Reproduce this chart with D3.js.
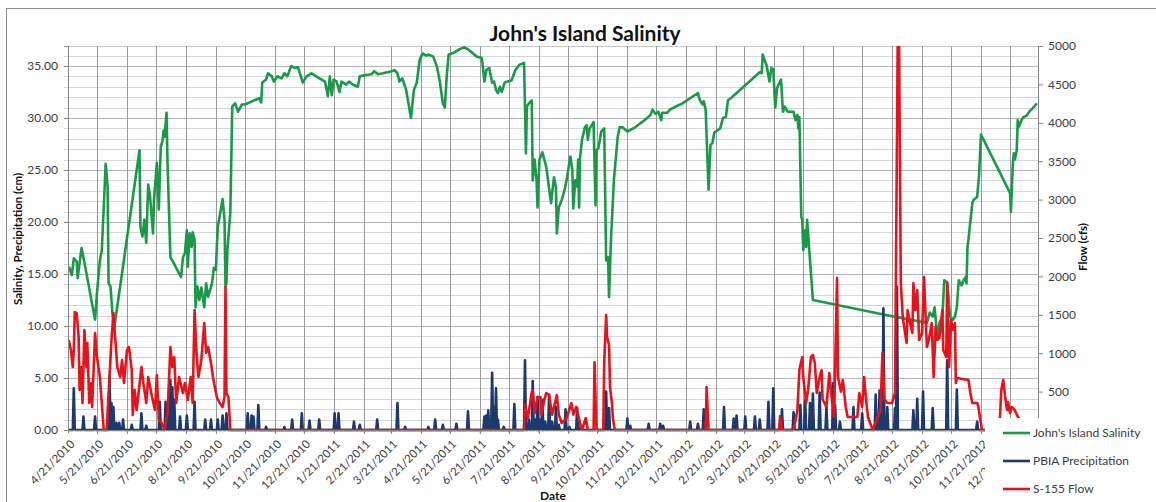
<!DOCTYPE html>
<html>
<head>
<meta charset="utf-8">
<script src="https://cdn.jsdelivr.net/npm/d3@7"></script>
<style>
  body { margin: 0; background: #fff; }
  text { font-family: Lato, 'Open Sans', sans-serif; }
</style>
</head>
<body>
<div class="container"></div>
<script>
// tick labels
const dateTicks = ['4/21/2010','5/21/2010','6/21/2010','7/21/2010','8/21/2010','9/21/2010','10/21/2010','11/21/2010','12/21/2010','1/21/2011','2/21/2011','3/21/2011','4/21/2011','5/21/2011','6/21/2011','7/21/2011','8/21/2011','9/21/2011','10/21/2011','11/21/2011','12/21/2011','1/21/2012','2/21/2012','3/21/2012','4/21/2012','5/21/2012','6/21/2012','7/21/2012','8/21/2012','9/21/2012','10/21/2012','11/21/2012','12/21/2012'];
const leftTicks = [0, 5, 10, 15, 20, 25, 30, 35];
const rightTicks = [500, 1000, 1500, 2000, 2500, 3000, 3500, 4000, 4500, 5000];

// John's Island salinity (left axis)
const salinity = [
['2010-04-22',15.7],['2010-04-25',14.9],['2010-04-27',16.5],['2010-04-30',16.2],['2010-05-01',14.6],['2010-05-05',17.5],['2010-05-08',16.1],['2010-05-19',10.6],['2010-05-21',13.2],['2010-05-24',16.3],['2010-05-26',17.3],['2010-05-30',25.6],['2010-06-01',23.4],['2010-06-02',14.1],['2010-06-04',13.8],['2010-06-06',11.2],['2010-06-08',9.9],
['2010-07-04',26.9],['2010-07-05',19.5],['2010-07-07',18.6],['2010-07-09',20.2],['2010-07-11',18.0],['2010-07-13',23.6],['2010-07-15',22.4],['2010-07-18',18.9],['2010-07-19',22.1],['2010-07-22',25.7],['2010-07-24',21.2],['2010-07-26',27.2],['2010-07-28',27.9],['2010-07-29',28.8],['2010-07-30',28.2],['2010-08-01',30.5],['2010-08-02',25.7],['2010-08-05',16.6],['2010-08-07',16.3],['2010-08-16',14.7],['2010-08-18',16.6],['2010-08-20',17.0],['2010-08-22',19.2],['2010-08-23',15.7],['2010-08-25',18.9],['2010-08-27',17.6],['2010-08-28',19.0],['2010-08-30',18.3],['2010-08-31',11.8],
['2010-09-02',13.8],['2010-09-04',12.5],['2010-09-06',13.7],['2010-09-09',11.8],['2010-09-11',14.1],['2010-09-13',12.8],['2010-09-17',14.1],['2010-09-19',15.6],['2010-09-21',15.4],['2010-09-23',19.5],['2010-09-28',22.2],['2010-09-30',20.2],['2010-10-01',13.8],['2010-10-02',14.1],['2010-10-03',17.3],['2010-10-06',20.9],['2010-10-08',31.1],['2010-10-11',31.4],['2010-10-14',30.6],['2010-10-18',31.3],['2010-10-21',31.3],
['2010-11-05',31.9],['2010-11-07',31.5],['2010-11-08',33.4],['2010-11-12',33.7],['2010-11-14',34.3],['2010-11-18',34.0],['2010-11-20',33.5],['2010-11-24',34.0],['2010-11-28',33.8],['2010-12-01',34.3],['2010-12-04',34.0],['2010-12-08',35.0],['2010-12-12',34.8],['2010-12-15',34.9],['2010-12-18',34.0],['2010-12-20',33.4],['2010-12-24',34.0],['2010-12-29',34.3],
['2011-01-03',34.0],['2011-01-12',33.5],['2011-01-15',32.1],['2011-01-17',34.0],['2011-01-19',32.2],['2011-01-21',33.7],['2011-01-24',33.5],['2011-01-27',32.5],['2011-01-29',33.5],['2011-02-03',33.2],['2011-02-06',33.5],['2011-02-10',33.2],['2011-02-15',33.0],['2011-02-17',34.0],['2011-02-22',34.1],['2011-03-01',34.2],['2011-03-04',34.5],['2011-03-08',34.2],['2011-03-13',34.3],['2011-03-22',34.5],['2011-03-25',34.6],['2011-03-28',34.3],['2011-03-30',33.5],
['2011-04-02',33.8],['2011-04-06',32.7],['2011-04-11',30.0],['2011-04-14',32.7],['2011-04-17',33.4],['2011-04-20',35.6],['2011-04-23',36.2],['2011-04-27',36.0],['2011-04-29',36.1],['2011-05-04',35.9],['2011-05-08',34.9],['2011-05-11',33.4],['2011-05-14',31.4],['2011-05-16',31.0],['2011-05-18',34.0],['2011-05-20',36.1],['2011-05-26',36.3],['2011-05-31',36.6],['2011-06-05',36.8],['2011-06-09',36.6],['2011-06-13',36.3],['2011-06-18',35.9],['2011-06-23',35.8],['2011-06-24',35.3],['2011-06-26',33.5],['2011-06-28',34.6],
['2011-07-01',34.8],['2011-07-04',33.4],['2011-07-06',33.5],['2011-07-08',32.7],['2011-07-10',32.4],['2011-07-12',33.0],['2011-07-14',32.5],['2011-07-17',33.4],['2011-07-20',33.5],['2011-07-24',33.6],['2011-07-28',34.6],['2011-08-01',35.1],['2011-08-06',35.3],['2011-08-07',31.1],['2011-08-08',26.6],['2011-08-09',31.1],['2011-08-11',31.4],['2011-08-14',31.7],['2011-08-15',24.0],['2011-08-17',26.0],['2011-08-19',24.0],['2011-08-20',21.4],['2011-08-22',26.0],['2011-08-25',26.7],['2011-08-27',26.0],['2011-08-29',25.3],
['2011-09-03',21.8],['2011-09-06',24.3],['2011-09-08',23.4],['2011-09-09',18.9],['2011-09-11',21.4],['2011-09-14',22.1],['2011-09-17',23.1],['2011-09-19',24.0],['2011-09-23',26.3],['2011-09-25',25.0],['2011-09-26',21.3],['2011-09-28',24.0],['2011-09-30',23.4],['2011-10-01',26.0],['2011-10-02',21.4],['2011-10-03',26.2],['2011-10-05',27.9],['2011-10-08',29.1],['2011-10-10',29.3],['2011-10-11',27.9],['2011-10-13',29.0],['2011-10-17',29.6],['2011-10-19',21.6],['2011-10-20',26.9],['2011-10-22',27.1],['2011-10-25',28.7],['2011-10-28',29.0],['2011-10-30',16.3],
['2011-11-01',16.6],['2011-11-02',12.8],['2011-11-04',18.3],['2011-11-07',24.0],['2011-11-11',28.2],['2011-11-13',29.1],['2011-11-16',29.1],['2011-11-21',28.7],['2011-11-29',29.1],['2011-12-09',29.8],['2011-12-15',30.3],['2011-12-17',30.8],['2011-12-20',30.4],['2011-12-23',30.6],['2011-12-26',29.8],['2011-12-27',30.5],
['2012-01-01',30.5],['2012-01-04',30.8],['2012-01-10',31.1],['2012-01-17',31.4],['2012-02-02',32.4],['2012-02-04',31.7],['2012-02-07',31.3],['2012-02-08',31.6],['2012-02-10',30.8],['2012-02-13',23.1],['2012-02-15',27.4],['2012-02-17',27.6],['2012-02-19',28.6],['2012-02-22',28.8],['2012-02-25',29.0],['2012-02-28',30.0],['2012-03-02',30.1],['2012-03-04',31.7],['2012-03-07',31.9],
['2012-04-06',34.4],['2012-04-08',34.3],['2012-04-09',36.1],['2012-04-12',35.3],['2012-04-13',35.1],['2012-04-16',33.5],['2012-04-18',34.8],['2012-04-20',34.7],['2012-04-22',31.0],['2012-04-24',32.9],['2012-04-28',33.7],['2012-04-30',30.6],['2012-05-02',31.1],['2012-05-05',30.6],['2012-05-11',30.6],['2012-05-13',29.8],['2012-05-15',30.3],['2012-05-16',29.0],['2012-05-17',30.1],['2012-05-19',20.5],['2012-05-20',20.2],['2012-05-21',17.3],['2012-05-23',19.2],['2012-05-24',17.6],['2012-05-25',20.2],['2012-05-27',17.6],['2012-05-31',12.5],
['2012-08-12',11.1],['2012-09-26',10.3],['2012-09-29',11.3],['2012-10-02',10.9],['2012-10-04',11.8],['2012-10-07',8.7],['2012-10-09',10.3],['2012-10-12',10.9],['2012-10-14',14.4],['2012-10-17',14.2],['2012-10-18',13.2],['2012-10-20',10.9],['2012-10-23',10.6],['2012-10-25',10.9],['2012-10-27',11.8],['2012-10-29',14.4],['2012-11-01',13.9],['2012-11-03',14.4],['2012-11-05',14.7],['2012-11-06',14.1],['2012-11-07',17.6],['2012-11-08',18.3],['2012-11-12',21.8],['2012-11-13',22.1],['2012-11-17',22.4],['2012-11-19',24.5],['2012-11-21',28.4],
['2012-12-21',22.8],['2012-12-22',21.0],['2012-12-24',25.7],['2012-12-25',26.6],['2012-12-26',26.0],['2012-12-28',26.9],['2012-12-29',29.8],['2012-12-30',29.1],['2013-01-02',29.8],['2013-01-04',30.1],['2013-01-07',30.2],['2013-01-10',30.6],['2013-01-15',31.1],['2013-01-18',31.4]
];

// PBIA precipitation, rain days only (left axis)
const precipitation = [
['2010-04-27',4.0],['2010-05-07',1.3],['2010-05-19',1.3],['2010-06-03',5.2],['2010-06-05',2.6],['2010-06-07',2.2],['2010-06-10',0.7],['2010-06-13',0.7],['2010-06-17',1.0],['2010-06-26',0.5],['2010-07-06',1.6],['2010-07-11',0.4],['2010-07-25',2.7],['2010-07-31',2.7],['2010-08-02',2.0],['2010-08-05',4.8],['2010-08-07',4.1],['2010-08-09',2.9],['2010-08-15',1.3],['2010-08-22',1.4],['2010-08-30',2.7],['2010-09-10',1.0],['2010-09-16',1.0],['2010-09-23',1.0],['2010-09-28',1.4],['2010-10-02',1.6],['2010-10-24',1.6],['2010-10-28',1.4],['2010-10-30',1.3],['2010-11-04',2.4],['2010-11-12',0.3],['2010-12-01',0.3],['2010-12-09',1.0],['2010-12-19',1.6],['2010-12-27',0.9],
['2011-01-06',1.0],['2011-01-22',1.6],['2011-01-26',1.6],['2011-02-11',0.8],['2011-02-17',0.5],['2011-03-07',1.0],['2011-03-28',2.6],['2011-04-05',0.3],['2011-04-29',0.3],['2011-05-06',1.0],['2011-05-14',0.5],['2011-05-28',0.6],['2011-06-09',1.8],['2011-06-26',1.3],['2011-06-28',1.4],['2011-06-30',1.9],['2011-07-04',5.5],['2011-07-06',2.2],['2011-07-08',4.0],['2011-07-10',1.0],['2011-07-16',0.3],['2011-07-27',2.5],['2011-08-07',6.7],['2011-08-11',1.0],['2011-08-15',4.7],['2011-08-18',1.0],['2011-08-20',3.2],['2011-08-23',1.0],['2011-08-25',2.9],['2011-08-28',0.8],['2011-09-01',3.4],['2011-09-04',0.8],['2011-09-08',2.2],['2011-09-11',0.5],['2011-09-18',2.0],['2011-09-22',0.3],['2011-09-30',2.1],['2011-10-04',0.4],['2011-10-30',3.7],['2011-11-02',2.1],['2011-11-21',1.1],['2011-11-24',0.4],['2011-12-13',0.6],['2011-12-25',0.6],['2011-12-28',0.4],
['2012-01-25',0.8],['2012-02-02',0.6],['2012-02-08',2.0],['2012-02-29',2.2],['2012-03-10',1.1],['2012-03-13',1.4],['2012-03-22',1.3],['2012-04-01',1.3],['2012-04-06',1.0],['2012-04-15',2.7],['2012-04-20',4.0],['2012-04-29',2.0],['2012-05-11',1.7],['2012-05-18',2.4],['2012-05-23',2.9],['2012-05-28',2.6],['2012-05-31',3.5],['2012-06-07',3.6],['2012-06-14',2.2],['2012-06-21',4.5],['2012-06-23',2.4],['2012-06-28',0.8],['2012-07-12',2.2],['2012-07-21',1.6],['2012-08-04',3.4],['2012-08-08',3.8],['2012-08-12',11.7],['2012-08-16',2.2],['2012-08-24',2.1],['2012-08-26',13.8],['2012-09-12',1.9],['2012-09-16',3.0],['2012-09-22',3.7],['2012-10-02',2.1],['2012-10-17',6.7],['2012-10-27',3.9],['2012-11-17',0.8]
];

// S-155 flow (right axis, cfs)
const flow = [
['2010-04-21',1100],['2010-04-22',1159],['2010-04-24',1042],['2010-04-26',820],['2010-04-27',1042],['2010-04-28',1536],['2010-04-30',1523],['2010-05-02',1211],['2010-05-03',521],['2010-05-05',820],['2010-05-06',352],['2010-05-08',1302],['2010-05-10',820],['2010-05-11',1133],['2010-05-13',352],['2010-05-15',612],['2010-05-16',300],['2010-05-19',1263],['2010-05-21',950],['2010-05-24',690],['2010-05-28',0],['2010-05-31',0],
['2010-06-05',1172],['2010-06-07',1523],['2010-06-09',1172],['2010-06-11',820],['2010-06-14',690],['2010-06-16',911],['2010-06-18',612],['2010-06-21',1042],['2010-06-23',1081],['2010-06-26',781],['2010-06-27',195],['2010-06-29',521],['2010-07-01',260],['2010-07-03',482],['2010-07-06',820],['2010-07-08',612],['2010-07-11',352],['2010-07-13',690],['2010-07-17',430],['2010-07-20',260],['2010-07-22',716],['2010-07-24',130],['2010-07-27',91],['2010-07-30',0],
['2010-08-02',221],['2010-08-05',1081],['2010-08-07',820],['2010-08-09',950],['2010-08-11',352],['2010-08-14',690],['2010-08-18',482],['2010-08-20',612],['2010-08-23',391],['2010-08-26',690],['2010-08-28',352],['2010-08-30',1562],['2010-09-01',1003],['2010-09-03',690],['2010-09-06',911],['2010-09-09',1393],['2010-09-11',1003],['2010-09-13',1081],['2010-09-16',872],['2010-09-18',690],['2010-09-22',430],['2010-09-25',352],['2010-09-28',300],['2010-09-30',430],['2010-10-01',1862],['2010-10-02',482],['2010-10-04',430],['2010-10-06',0],
['2011-08-06',0],['2011-08-07',325],['2011-08-10',150],['2011-08-14',495],['2011-08-15',521],['2011-08-17',221],['2011-08-19',365],['2011-08-20',417],['2011-08-23',430],['2011-08-24',200],['2011-08-27',391],['2011-08-29',482],['2011-09-01',456],['2011-09-04',200],['2011-09-06',300],['2011-09-08',400],['2011-09-09',456],['2011-09-11',200],['2011-09-14',91],['2011-09-19',150],['2011-09-24',352],['2011-09-26',200],['2011-09-29',300],['2011-10-03',91],['2011-10-05',0],['2011-10-09',156],['2011-10-11',0],['2011-10-17',0],['2011-10-18',880],['2011-10-20',0],['2011-10-27',0],['2011-10-28',872],['2011-10-30',1497],['2011-10-31',1211],['2011-11-02',1107],['2011-11-03',560],['2011-11-05',352],['2011-11-06',156],['2011-11-08',0],
['2012-02-10',0],['2012-02-11',560],['2012-02-13',0],['2012-04-26',0],['2012-04-27',180],['2012-04-29',0],['2012-05-11',0],['2012-05-15',260],['2012-05-17',781],['2012-05-20',950],['2012-05-21',690],['2012-05-24',352],['2012-05-26',521],['2012-05-29',950],['2012-05-31',977],['2012-06-02',872],['2012-06-04',482],['2012-06-07',690],['2012-06-09',781],['2012-06-10',400],['2012-06-14',300],['2012-06-17',742],['2012-06-20',350],['2012-06-22',170],['2012-06-25',1979],['2012-06-26',690],['2012-06-29',500],['2012-07-01',651],['2012-07-04',300],['2012-07-06',170],['2012-07-16',170],['2012-07-18',482],['2012-07-21',300],['2012-07-23',690],['2012-07-25',400],['2012-07-27',170],
['2012-08-01',0],['2012-08-05',130],['2012-08-09',250],['2012-08-11',1003],['2012-08-13',400],['2012-08-16',352],['2012-08-21',352],['2012-08-24',482],['2012-08-27',5400],['2012-08-28',5400],['2012-08-30',1914],['2012-09-01',1471],['2012-09-05',1133],['2012-09-06',1562],['2012-09-08',1432],['2012-09-11',1263],['2012-09-12',1914],['2012-09-14',1562],['2012-09-16',1823],['2012-09-18',1172],['2012-09-21',1263],['2012-09-23',1992],['2012-09-26',1081],['2012-09-28',1172],
['2012-10-01',1393],['2012-10-03',690],['2012-10-05',1341],['2012-10-07',1172],['2012-10-09',1200],['2012-10-12',1562],['2012-10-13',1042],['2012-10-16',950],['2012-10-17',1914],['2012-10-19',820],['2012-10-21',1432],['2012-10-23',1302],['2012-10-25',1393],['2012-10-26',612],['2012-10-27',677],['2012-11-08',651],['2012-11-10',482],['2012-11-12',352],['2012-11-17',352],['2012-11-18',320],['2012-11-22',0],
['2012-12-10',0],['2012-12-12',521],['2012-12-14',651],['2012-12-16',430],['2012-12-18',260],['2012-12-19',365],['2012-12-21',221],['2012-12-23',300],['2012-12-26',260],['2012-12-28',200],['2012-12-30',156],['2012-12-31',0]
];

const seriesNames = ["John's Island Salinity", 'PBIA Precipitation', 'S-155 Flow'];
const seriesColors = ['#1a9a48', '#1c3a6e', '#e5131b'];

let parseDay = d3.timeParse('%Y-%m-%d');
let parseTick = d3.timeParse('%m/%d/%Y');
let fmtDay = d3.timeFormat('%Y-%m-%d');

let margin = { top: 46, right: 118, bottom: 72, left: 68 };
let W = 1156, H = 502;

let svg = d3
  .select('.container')
  .append('svg')
  .attr('width', W)
  .attr('height', H);

// outer chart border
svg.append('rect')
  .attr('x', 6.5).attr('y', 8.5)
  .attr('width', W + 20).attr('height', H + 20)
  .attr('fill', '#fff')
  .attr('stroke', '#8c8c8c');

let x = d3.scaleTime()
  .domain([parseDay('2010-04-21'), parseDay('2013-01-19')])
  .range([margin.left, W - margin.right]);

let yLeft = d3.scaleLinear().domain([0, 36.92]).range([H - margin.bottom, margin.top]);
let yRight = d3.scaleLinear().domain([0, 5000]).range([H - margin.bottom, margin.top]);

let x0 = margin.left, x1 = W - margin.right, yTop = margin.top, yBot = H - margin.bottom;
let tickDates = dateTicks.map(parseTick);

// grid
let grid = svg.append('g');
grid.selectAll('.hminor')
  .data(d3.range(1, 37))
  .enter()
  .append('line')
  .attr('x1', x0 - 4).attr('x2', x1)
  .attr('y1', (d) => Math.round(yLeft(d)) + 0.5)
  .attr('y2', (d) => Math.round(yLeft(d)) + 0.5)
  .attr('stroke', (d) => (d % 5 === 0 ? '#b4b4b4' : '#d6d6d6'))
  .attr('stroke-width', 1);

grid.append('line')
  .attr('x1', x0).attr('x2', x1)
  .attr('y1', yTop + 0.5).attr('y2', yTop + 0.5)
  .attr('stroke', '#c8c8c8');

grid.selectAll('.vgrid')
  .data(tickDates.slice(1))
  .enter()
  .append('line')
  .attr('x1', (d) => Math.round(x(d)) + 0.5)
  .attr('x2', (d) => Math.round(x(d)) + 0.5)
  .attr('y1', yTop).attr('y2', yBot + 4)
  .attr('stroke', '#999')
  .attr('stroke-width', 1);

// lines
svg.append('clipPath').attr('id', 'plotclip')
  .append('rect')
  .attr('x', x0).attr('y', yTop)
  .attr('width', x1 - x0).attr('height', yBot - yTop + 3);

let plot = svg.append('g').attr('clip-path', 'url(#plotclip)');

let salinityData = salinity.map(([d, v]) => ({ date: parseDay(d), value: v }));

let rainByDay = new Map(precipitation);
let precipData = d3.timeDay
  .range(parseDay('2010-04-21'), parseDay('2013-01-01'))
  .map((d) => ({ date: d, value: rainByDay.get(fmtDay(d)) || 0 }));

let flowData = flow.map(([d, v]) => ({ date: parseDay(d), value: v }));

let lineLeft = d3.line().x((d) => x(d.date)).y((d) => yLeft(d.value));
let lineRight = d3.line().x((d) => x(d.date)).y((d) => yRight(d.value));

plot.append('path')
  .datum(salinityData)
  .attr('d', lineLeft)
  .attr('fill', 'none')
  .attr('stroke', seriesColors[0])
  .attr('stroke-width', 2.6)
  .attr('stroke-linejoin', 'round');

plot.append('path')
  .datum(precipData)
  .attr('d', lineLeft)
  .attr('fill', 'none')
  .attr('stroke', seriesColors[1])
  .attr('stroke-width', 2.6)
  .attr('stroke-linejoin', 'round');

plot.append('path')
  .datum(flowData)
  .attr('d', lineRight)
  .attr('fill', 'none')
  .attr('stroke', seriesColors[2])
  .attr('stroke-width', 2.6)
  .attr('stroke-linejoin', 'round');

// axes
let leftAxis = svg.append('g')
  .attr('transform', 'translate(' + x0 + ',0)')
  .call(d3.axisLeft(yLeft).tickValues(leftTicks).tickFormat(d3.format('.2f')).tickSize(4).tickPadding(6));

let rightAxis = svg.append('g')
  .attr('transform', 'translate(' + x1 + ',0)')
  .call(d3.axisRight(yRight).tickValues(rightTicks).tickFormat(d3.format('d')).tickSize(5).tickPadding(5));

let bottomAxis = svg.append('g')
  .attr('transform', 'translate(0,' + yBot + ')')
  .call(d3.axisBottom(x).tickValues(tickDates).tickFormat(d3.timeFormat('%-m/%-d/%Y')).tickSize(3).tickSizeOuter(0));

[leftAxis, rightAxis, bottomAxis].forEach((g) => {
  g.selectAll('path.domain').attr('stroke', '#868686');
  g.selectAll('.tick line').attr('stroke', '#868686');
  g.selectAll('text')
    .style('font-size', '12px')
    .attr('fill', '#404040')
    .style('font-family', 'Lato, sans-serif');
});
bottomAxis.select('path.domain').attr('d', 'M' + x0 + ',0.5H' + x1);

bottomAxis.selectAll('text')
  .attr('text-anchor', 'end')
  .attr('x', 0).attr('y', 0)
  .attr('dy', '0.35em')
  .attr('transform', 'translate(4,12) rotate(-45)')
  .style('font-size', '11.5px');

// legend
let legend = svg.append('g');
legend.append('rect')
  .attr('x', 985).attr('y', 418)
  .attr('width', 180).attr('height', 90)
  .attr('fill', '#fff');

let rows = legend.selectAll('.row')
  .data(seriesNames)
  .enter()
  .append('g')
  .attr('transform', (d, i) => 'translate(1003,' + (433 + i * 28) + ')');
rows.append('line')
  .attr('x1', 0).attr('x2', 27)
  .attr('stroke', (d, i) => seriesColors[i])
  .attr('stroke-width', 2.6);
rows.append('text')
  .attr('x', 30).attr('dy', '0.35em')
  .style('font-size', '12px')
  .attr('fill', '#404040')
  .text((d) => d);

// titles
svg.append('text')
  .attr('x', 585).attr('y', 41)
  .attr('text-anchor', 'middle')
  .style('font-size', '21px')
  .style('font-weight', 'bold')
  .attr('fill', '#111')
  .text("John's Island Salinity");

svg.append('text')
  .attr('transform', 'translate(22,239) rotate(-90)')
  .attr('text-anchor', 'middle')
  .style('font-size', '11.5px')
  .style('font-weight', 'bold')
  .attr('fill', '#111')
  .text('Salinity, Precipitation (cm)');

svg.append('text')
  .attr('transform', 'translate(1087,247) rotate(-90)')
  .attr('text-anchor', 'middle')
  .style('font-size', '11.5px')
  .style('font-weight', 'bold')
  .attr('fill', '#111')
  .text('Flow (cfs)');

svg.append('text')
  .attr('x', 553).attr('y', 500)
  .attr('text-anchor', 'middle')
  .style('font-size', '12px')
  .style('font-weight', 'bold')
  .attr('fill', '#111')
  .text('Date');
</script>
</body>
</html>
